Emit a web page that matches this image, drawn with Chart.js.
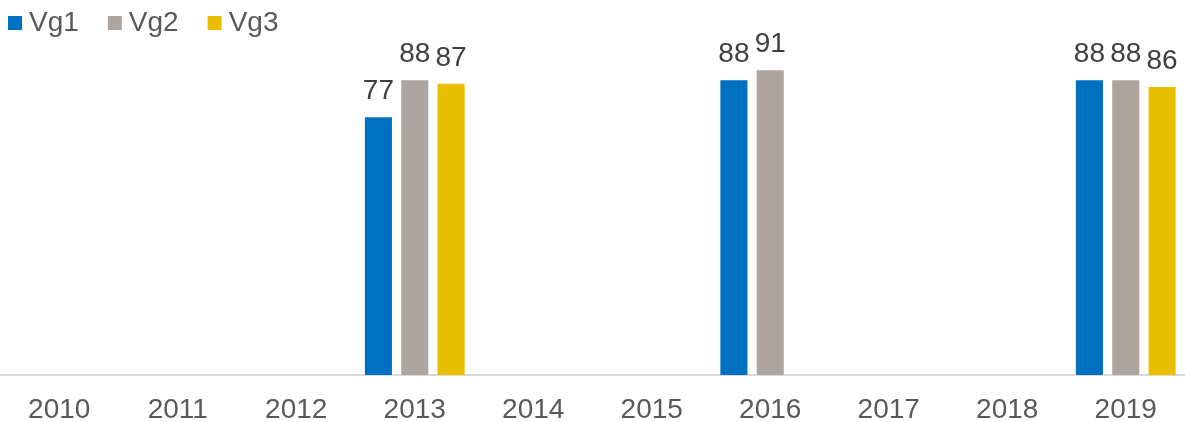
<!DOCTYPE html>
<html>
<head>
<meta charset="utf-8">
<script src="https://cdn.jsdelivr.net/npm/chart.js@4/dist/chart.umd.min.js"></script>
<style>
  html, body { margin: 0; padding: 0; background: #fff; }
  #wrap { width: 1185px; height: 422px; }
</style>
</head>
<body>
<div id="wrap"><canvas id="year-chart"></canvas></div>
<script>
const labels_year = ['2010', '2011', '2012', '2013', '2014', '2015', '2016', '2017', '2018', '2019'];
const vg1 = [null, null, null, 77, null, null, 88, null, null, 88];
const vg2 = [null, null, null, 88, null, null, 91, null, null, 88];
const vg3 = [null, null, null, 87, null, null, null, null, null, 86];

const font_family = "'Liberation Sans', Arial, sans-serif"

// value labels above each bar
const bar_labels = {
    id: 'bar_labels',
    afterDatasetsDraw(chart) {
        const ctx = chart.ctx
        ctx.save()
        ctx.font = "28px " + font_family
        ctx.fillStyle = '#404040'
        ctx.textAlign = 'center'
        ctx.textBaseline = 'alphabetic'
        chart.data.datasets.forEach((ds, i) => {
            chart.getDatasetMeta(i).data.forEach((bar, j) => {
                if (ds.data[j] == null) return
                ctx.fillText(ds.data[j], bar.x, bar.y - 17)
            })
        })
        ctx.restore()
    }
}

// legend drawn by hand, square marker + name, top-left
const top_legend = {
    id: 'top_legend',
    afterDraw(chart) {
        const ctx = chart.ctx
        ctx.save()
        ctx.font = "28px " + font_family
        ctx.textBaseline = 'middle'
        ctx.textAlign = 'left'
        let x = 8
        chart.data.datasets.forEach(ds => {
            ctx.fillStyle = ds.backgroundColor
            ctx.fillRect(x, 16, 14, 14)
            ctx.fillStyle = '#595959'
            ctx.fillText(ds.label, x + 21, 23)
            x += 21 + ctx.measureText(ds.label).width + 29
        })
        ctx.restore()
    }
}

const make_ds = (label, data, color) => ({
    label: label,
    data: data,
    backgroundColor: color,
    borderColor: '#ffffff',
    borderWidth: 1,
    barPercentage: 0.8,
    categoryPercentage: 0.92,
})

new Chart(document.getElementById('year-chart'), {
    type: 'bar',
    data: {
        labels: labels_year,
        datasets: [
            make_ds('Vg1', vg1, '#0070C0'),
            make_ds('Vg2', vg2, '#ADA59E'),
            make_ds('Vg3', vg3, '#E8BF00'),
        ]
    },
    options: {
        responsive: true,
        maintainAspectRatio: false,
        animation: false,
        layout: { padding: { left: 0, right: 0, top: 39, bottom: 0 } },
        scales: {
            y: {
                display: false,
                min: 0,
                max: 100,
            },
            x: {
                grid: { display: false, drawTicks: false },
                border: { color: '#D9D9D9', width: 2 },
                ticks: {
                    color: '#595959',
                    font: { size: 28, family: font_family, lineHeight: 1 },
                    padding: 21,
                    maxRotation: 0,
                },
                afterFit: (scale) => { scale.height = 47 },
            }
        },
        plugins: {
            legend: { display: false },
            tooltip: { enabled: false },
        }
    },
    plugins: [bar_labels, top_legend]
})
</script>
</body>
</html>
